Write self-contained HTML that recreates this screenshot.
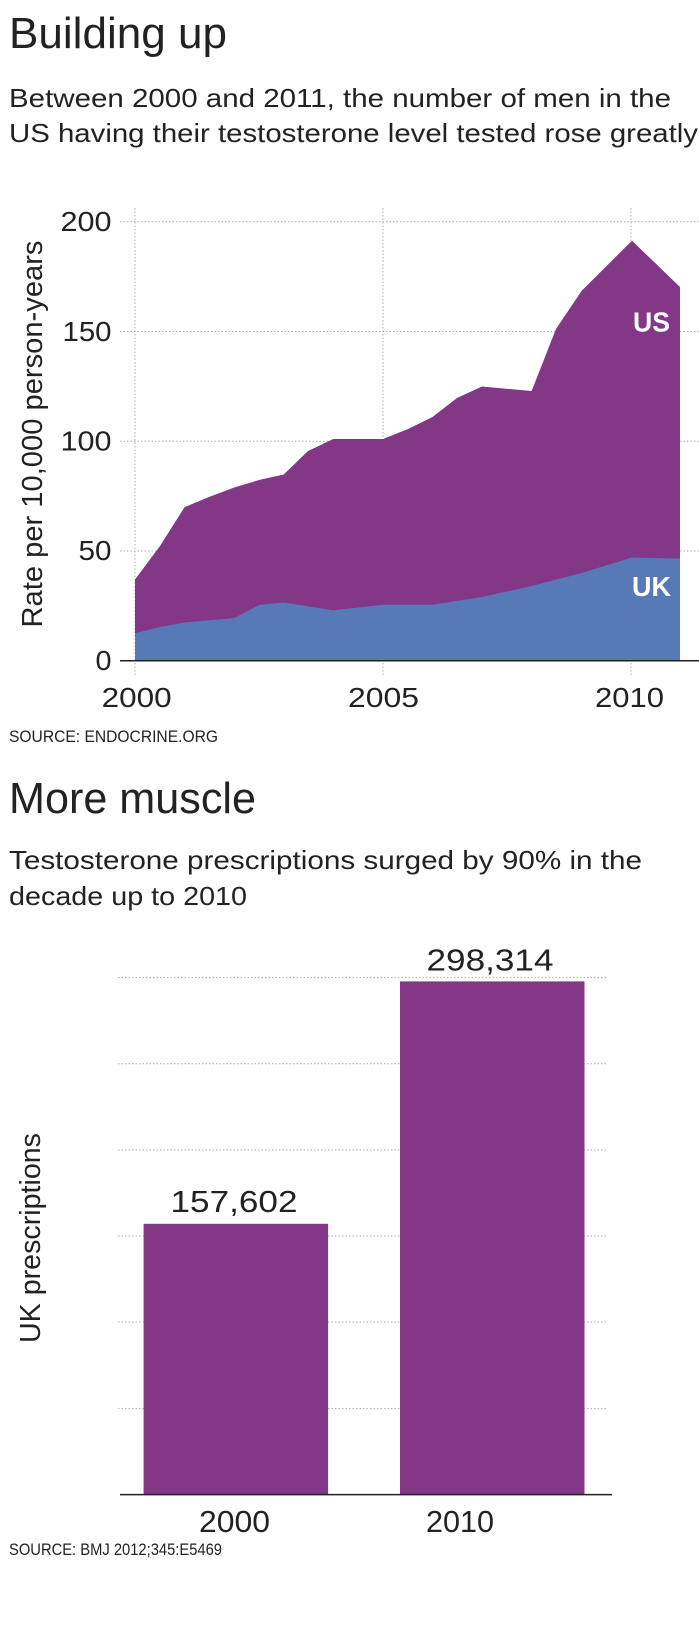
<!DOCTYPE html>
<html><head><meta charset="utf-8"><style>
html,body{margin:0;padding:0;background:#fff;}
svg{display:block;}
text{font-family:"Liberation Sans",sans-serif;fill:#222;}
</style></head><body>
<svg width="699" height="1646" viewBox="0 0 699 1646" xmlns="http://www.w3.org/2000/svg">
<rect width="699" height="1646" fill="#fff"/>
<text x="9" y="48" font-size="44" textLength="218" lengthAdjust="spacingAndGlyphs">Building up</text>
<text x="9" y="107" font-size="26" textLength="662" lengthAdjust="spacingAndGlyphs">Between 2000 and 2011, the number of men in the</text>
<text x="9" y="142" font-size="26" textLength="689" lengthAdjust="spacingAndGlyphs">US having their testosterone level tested rose greatly</text>

<g stroke="#aaa" stroke-width="1" stroke-dasharray="1.5,2">
<line x1="120" y1="221.8" x2="699" y2="221.8"/>
<line x1="120" y1="331.5" x2="699" y2="331.5"/>
<line x1="120" y1="441.2" x2="699" y2="441.2"/>
<line x1="120" y1="551" x2="699" y2="551"/>
<line x1="135" y1="208" x2="135" y2="675"/>
<line x1="383" y1="208" x2="383" y2="675"/>
<line x1="631" y1="208" x2="631" y2="675"/>
</g>
<polygon fill="#833787" points="135,579.5 160,546 184.6,507.1 209,497 234.2,487.5 259,480 283.7,474.5 308,451 333.3,439 383,439 408,429 432.5,417 457,398 482,386.5 531.6,391 556,329 581.7,290.7 632,240.7 680,287 680,660.7 135,660.7"/>
<polygon fill="#5779b8" points="135,633.3 160,627 184.6,622.5 234.2,618.1 259,605 283.7,602.5 333.3,610.2 383,604.8 432.5,604.8 482,597 531.6,586 581.7,573 632,557.5 680,558.6 680,660.7 135,660.7"/>
<line x1="120" y1="660.7" x2="699" y2="660.7" stroke="#222" stroke-width="1.5"/>
<g font-size="28" text-anchor="end">
<text x="111.5" y="231" textLength="51" lengthAdjust="spacingAndGlyphs">200</text>
<text x="111.5" y="341" textLength="49" lengthAdjust="spacingAndGlyphs">150</text>
<text x="111.5" y="450.5" textLength="51" lengthAdjust="spacingAndGlyphs">100</text>
<text x="111.5" y="560" textLength="33" lengthAdjust="spacingAndGlyphs">50</text>
<text x="111.5" y="670" textLength="16" lengthAdjust="spacingAndGlyphs">0</text>
</g>
<g font-size="28">
<text x="101.6" y="707" textLength="70" lengthAdjust="spacingAndGlyphs">2000</text>
<text x="348" y="707" textLength="71" lengthAdjust="spacingAndGlyphs">2005</text>
<text x="595" y="707" textLength="69" lengthAdjust="spacingAndGlyphs">2010</text>
</g>
<text transform="translate(42,434) rotate(-90)" font-size="29" text-anchor="middle" textLength="387" lengthAdjust="spacingAndGlyphs">Rate per 10,000 person-years</text>
<text x="633" y="331.7" font-size="28" font-weight="bold" style="fill:#fff" textLength="37" lengthAdjust="spacingAndGlyphs">US</text>
<text x="632" y="596" font-size="28" font-weight="bold" style="fill:#fff" textLength="39" lengthAdjust="spacingAndGlyphs">UK</text>
<text x="9" y="742" font-size="17" textLength="209" lengthAdjust="spacingAndGlyphs">SOURCE: ENDOCRINE.ORG</text>

<text x="9" y="813" font-size="44" textLength="247" lengthAdjust="spacingAndGlyphs">More muscle</text>
<text x="9" y="869" font-size="26" textLength="633" lengthAdjust="spacingAndGlyphs">Testosterone prescriptions surged by 90% in the</text>
<text x="9" y="905" font-size="26" textLength="238" lengthAdjust="spacingAndGlyphs">decade up to 2010</text>

<g stroke="#aaa" stroke-width="1" stroke-dasharray="1.5,2">
<line x1="118" y1="977.6" x2="607" y2="977.6"/>
<line x1="118" y1="1063.8" x2="607" y2="1063.8"/>
<line x1="118" y1="1150" x2="607" y2="1150"/>
<line x1="118" y1="1236" x2="607" y2="1236"/>
<line x1="118" y1="1322" x2="607" y2="1322"/>
<line x1="118" y1="1408.6" x2="607" y2="1408.6"/>
</g>
<rect x="143.6" y="1223.8" width="184.5" height="270.8" fill="#833787"/>
<rect x="400" y="981.4" width="184.5" height="513.2" fill="#833787"/>
<line x1="120" y1="1494.6" x2="612" y2="1494.6" stroke="#222" stroke-width="1.5"/>
<g font-size="31" text-anchor="middle">
<text x="234" y="1212" textLength="127" lengthAdjust="spacingAndGlyphs">157,602</text>
<text x="490" y="970.5" textLength="127" lengthAdjust="spacingAndGlyphs">298,314</text>
<text x="234.5" y="1532" textLength="71" lengthAdjust="spacingAndGlyphs">2000</text>
<text x="460" y="1532" textLength="68" lengthAdjust="spacingAndGlyphs">2010</text>
</g>
<text transform="translate(40,1238) rotate(-90)" font-size="29" text-anchor="middle" textLength="210" lengthAdjust="spacingAndGlyphs">UK prescriptions</text>
<text x="9" y="1555" font-size="17" textLength="213" lengthAdjust="spacingAndGlyphs">SOURCE: BMJ 2012;345:E5469</text>
</svg>
</body></html>
